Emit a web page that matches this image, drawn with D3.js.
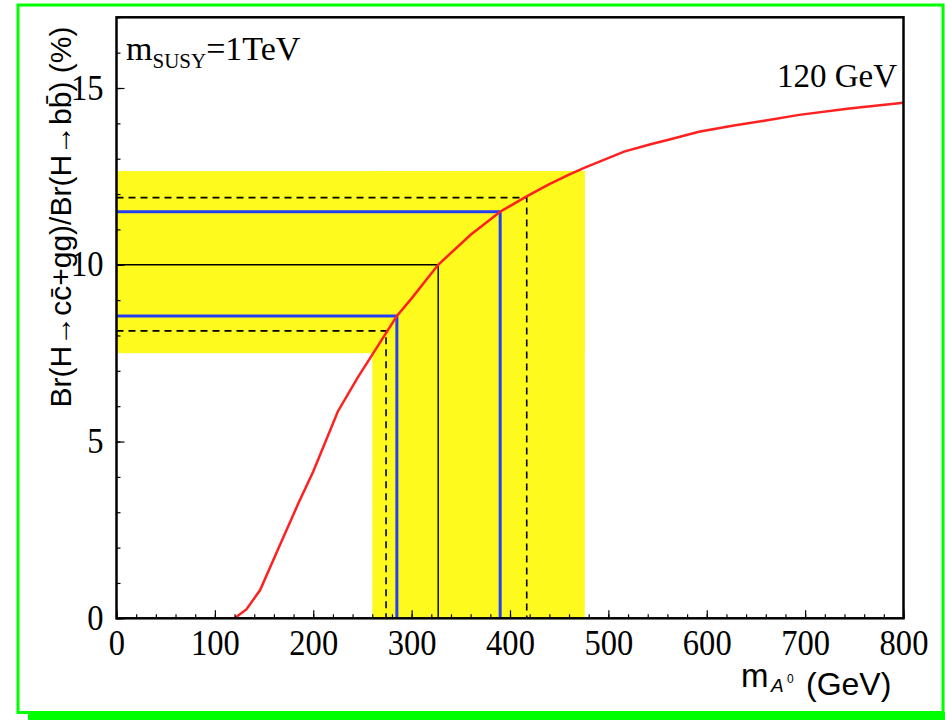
<!DOCTYPE html>
<html>
<head>
<meta charset="utf-8">
<script src="https://cdn.jsdelivr.net/npm/d3@7"></script>
<style>
  body { margin: 0; background: #fff; }
</style>
</head>
<body>
<div id="chart"></div>
<script>
// ---- data ----
const massA = [120, 132, 146, 165, 185, 200, 225, 245, 261, 285, 300, 327, 360, 390, 416, 440, 460, 476, 491, 516, 542, 567, 592, 626, 660, 694, 745, 800];
const ratio = [0, 0.25, 0.8, 2.0, 3.26, 4.15, 5.85, 6.8, 7.5, 8.55, 9.05, 10.0, 10.85, 11.5, 11.92, 12.28, 12.55, 12.75, 12.92, 13.2, 13.4, 13.58, 13.76, 13.93, 14.08, 14.24, 14.42, 14.58];

const bandMass = [260, 476];      // vertical yellow band (GeV)
const bandRatio = [7.5, 12.65];   // horizontal yellow band (%)

const centralPoint = { mass: 327, ratio: 10 };
const bluePoints = [{ mass: 285, ratio: 8.55 }, { mass: 390, ratio: 11.5 }];
const dashedPoints = [{ mass: 274, ratio: 8.13 }, { mass: 417, ratio: 11.9 }];

const xTicks = [0, 100, 200, 300, 400, 500, 600, 700, 800];
const yTicks = [0, 5, 10, 15];

// ---- layout ----
const W = 945, H = 720;
const margin = { top: 17.3, left: 116.5, right: 41.5, bottom: 101.7 };
const width = W - margin.left - margin.right;
const height = H - margin.top - margin.bottom;

const serif = "'Liberation Serif', 'Times New Roman', serif";
const sans = "'Liberation Sans', Arial, sans-serif";

const svg = d3.select("#chart").append("svg")
    .attr("width", W)
    .attr("height", H);

// green page frame with shadow
svg.append("rect")
    .attr("x", 28).attr("y", 712)
    .attr("width", W - 28).attr("height", 8)
    .attr("fill", "#00ff00");
svg.append("rect")
    .attr("x", 18).attr("y", 5)
    .attr("width", 925).attr("height", 707.5)
    .attr("fill", "none")
    .attr("stroke", "#00ff00")
    .attr("stroke-width", 3);

const g = svg.append("g")
    .attr("transform", `translate(${margin.left},${margin.top})`);

const x = d3.scaleLinear().domain([0, 800]).range([0, width]);
const y = d3.scaleLinear().domain([0, 17]).range([height, 0]);

// ---- yellow bands ----
g.append("rect")
    .attr("x", x(0))
    .attr("y", y(bandRatio[1]))
    .attr("width", x(bandMass[1]) - x(0))
    .attr("height", y(bandRatio[0]) - y(bandRatio[1]))
    .attr("fill", "#fffa1e");
g.append("rect")
    .attr("x", x(bandMass[0]))
    .attr("y", y(bandRatio[1]))
    .attr("width", x(bandMass[1]) - x(bandMass[0]))
    .attr("height", y(0) - y(bandRatio[1]))
    .attr("fill", "#fffa1e");

// ---- reference lines: axis -> curve -> axis ----
const corner = p => `M${x(0)},${y(p.ratio)}H${x(p.mass)}V${y(0)}`;

g.selectAll("path.dashed")
    .data(dashedPoints)
    .enter().append("path")
    .attr("class", "dashed")
    .attr("d", corner)
    .attr("fill", "none")
    .attr("stroke", "#000")
    .attr("stroke-width", 1.6)
    .attr("stroke-dasharray", "7,5");

g.append("path")
    .attr("d", corner(centralPoint))
    .attr("fill", "none")
    .attr("stroke", "#000")
    .attr("stroke-width", 1.4);

g.selectAll("path.blue")
    .data(bluePoints)
    .enter().append("path")
    .attr("class", "blue")
    .attr("d", corner)
    .attr("fill", "none")
    .attr("stroke", "#2440f5")
    .attr("stroke-width", 3);

// ---- red curve ----
const line = d3.line()
    .x((d, i) => x(massA[i]))
    .y(d => y(d));

g.append("path")
    .datum(ratio)
    .attr("d", line)
    .attr("fill", "none")
    .attr("stroke", "#ff2020")
    .attr("stroke-width", 2.5);

// ---- axes (ticks point inward) ----
const xMinor = g.append("g")
    .attr("transform", `translate(0,${height})`)
    .call(d3.axisBottom(x).ticks(40).tickSize(-4).tickFormat(""));
const xMajor = g.append("g")
    .attr("transform", `translate(0,${height})`)
    .call(d3.axisBottom(x).tickValues(xTicks).tickSize(-8).tickPadding(12));

const yMinor = g.append("g")
    .call(d3.axisLeft(y).ticks(17).tickSize(-4).tickFormat(""));
const yMajor = g.append("g")
    .call(d3.axisLeft(y).tickValues(yTicks).tickSize(-8).tickPadding(13));

[xMinor, xMajor, yMinor, yMajor].forEach(a => {
    a.select(".domain").remove();
    a.selectAll("line").attr("stroke", "#000").attr("stroke-width", 1.2);
});

xMajor.selectAll("text")
    .style("font-family", serif)
    .style("font-size", "35px")
    .attr("fill", "#000")
    .attr("transform", "scale(0.93,1)");

yMajor.selectAll("text")
    .style("font-family", serif)
    .style("font-size", "35px")
    .attr("fill", "#000")
    .attr("x", -13 / 0.93)
    .attr("transform", "scale(0.93,1)");

// frame
g.append("rect")
    .attr("width", width)
    .attr("height", height)
    .attr("fill", "none")
    .attr("stroke", "#000")
    .attr("stroke-width", 2.5);

// ---- texts ----
const mSusy = svg.append("text")
    .attr("x", 126)
    .attr("y", 60)
    .style("font-family", serif)
    .style("font-size", "34px");
mSusy.append("tspan").text("m");
mSusy.append("tspan").attr("dy", 8).style("font-size", "21px").text("SUSY");
mSusy.append("tspan").attr("dy", -8).text("=1TeV");

svg.append("text")
    .attr("x", 897)
    .attr("y", 87)
    .attr("text-anchor", "end")
    .style("font-family", serif)
    .style("font-size", "33px")
    .text("120 GeV");

// x label: m_{A^0} (GeV)
svg.append("text")
    .attr("x", 741).attr("y", 687)
    .style("font-family", sans).style("font-size", "33px")
    .text("m");
svg.append("text")
    .attr("x", 771).attr("y", 692)
    .style("font-family", sans).style("font-size", "19px").style("font-style", "italic")
    .text("A");
svg.append("text")
    .attr("x", 787).attr("y", 683)
    .style("font-family", sans).style("font-size", "12px")
    .text("0");
svg.append("text")
    .attr("x", 806).attr("y", 695)
    .style("font-family", sans).style("font-size", "32px")
    .text("(GeV)");

// y label
svg.append("text")
    .attr("transform", "translate(71,217) rotate(-90)")
    .attr("text-anchor", "middle")
    .style("font-family", sans)
    .style("font-size", "30px")
    .text("Br(H\u2192cc\u0304+gg)/Br(H\u2192bb\u0304) (%)");
</script>
</body>
</html>
